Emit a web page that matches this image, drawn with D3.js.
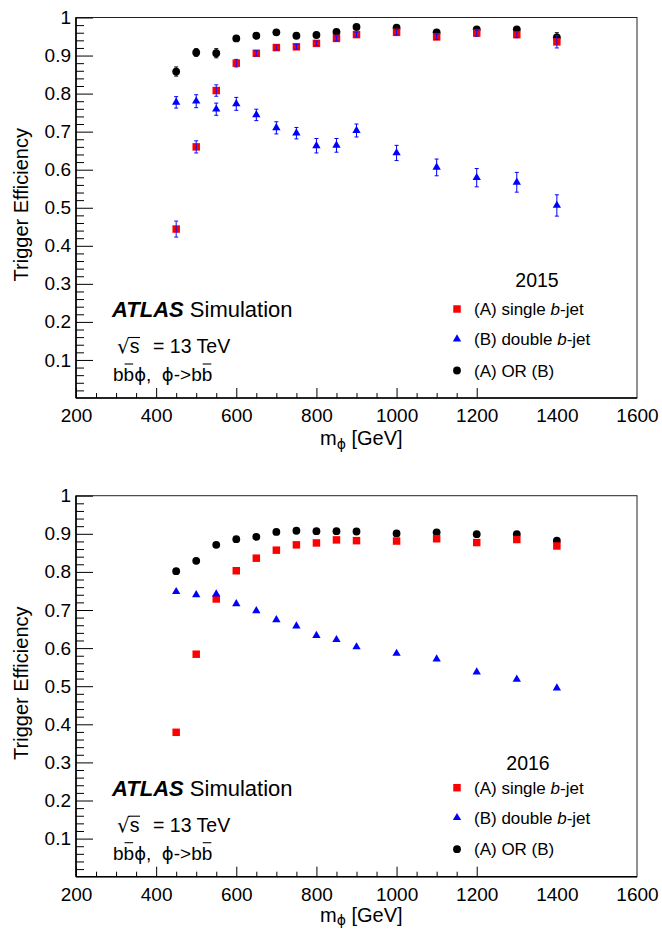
<!DOCTYPE html>
<html>
<head>
<meta charset="utf-8">
<script src="https://cdn.jsdelivr.net/npm/d3@7"></script>
<style>
  body { margin: 0; background: #fff; }
  svg { display: block; font-family: "Liberation Sans", Arial, Helvetica, sans-serif; }
  .sym { font-family: "DejaVu Sans", sans-serif; }
</style>
</head>
<body>
<svg width="662" height="930"></svg>
<script>
// signal mass points (GeV)
const masses = [450, 500, 550, 600, 650, 700, 750, 800, 850, 900, 1000, 1100, 1200, 1300, 1400];

// 2015 trigger efficiencies
const single2015    = [0.444, 0.660, 0.808, 0.880, 0.906, 0.921, 0.923, 0.932, 0.945, 0.955, 0.961, 0.949, 0.959, 0.955, 0.936];
const single2015Err = [0.021, 0.016, 0.015, 0.010, 0.007, 0.006, 0.006, 0.006, 0.006, 0.006, 0.007, 0.007, 0.008, 0.008, 0.016];
const double2015    = [0.777, 0.780, 0.759, 0.773, 0.744, 0.710, 0.696, 0.663, 0.664, 0.703, 0.644, 0.606, 0.579, 0.567, 0.506];
const double2015Err = [0.015, 0.017, 0.016, 0.017, 0.015, 0.016, 0.015, 0.019, 0.018, 0.017, 0.020, 0.022, 0.024, 0.026, 0.028];
const or2015        = [0.858, 0.908, 0.906, 0.945, 0.952, 0.961, 0.952, 0.954, 0.962, 0.975, 0.973, 0.961, 0.969, 0.969, 0.948];
const or2015Err     = [0.012, 0.010, 0.012, 0.006, 0.005, 0.005, 0.005, 0.005, 0.005, 0.005, 0.005, 0.005, 0.005, 0.005, 0.012];

// 2016 trigger efficiencies
const single2016 = [0.379, 0.584, 0.729, 0.803, 0.836, 0.857, 0.871, 0.876, 0.884, 0.882, 0.881, 0.887, 0.877, 0.885, 0.868];
const double2016 = [0.748, 0.740, 0.742, 0.716, 0.698, 0.674, 0.658, 0.633, 0.622, 0.603, 0.586, 0.571, 0.537, 0.518, 0.495];
const or2016     = [0.802, 0.829, 0.871, 0.886, 0.892, 0.905, 0.908, 0.907, 0.907, 0.906, 0.901, 0.904, 0.899, 0.899, 0.882];

// axis ticks
const xMajorTicks = [200, 400, 600, 800, 1000, 1200, 1400, 1600];
const yMajorTicks = [0.1, 0.2, 0.3, 0.4, 0.5, 0.6, 0.7, 0.8, 0.9, 1];
const legendLabels = ["(A) single ", "(B) double ", "(A) OR (B)"];

const svg = d3.select("svg");
const left = 76, right = 637;
const PHI = "\u03D5";

const panels = [
  { year: "2015", top: 17.5, bottom: 398, yearX: 537, yearY: 287, titleDy: 47,
    single: single2015, singleErr: single2015Err,
    double: double2015, doubleErr: double2015Err,
    or: or2015, orErr: or2015Err },
  { year: "2016", top: 495.7, bottom: 876.7, yearX: 528, yearY: 770, titleDy: 45,
    single: single2016, double: double2016, or: or2016 }
];

function errorBars(g, x, y, vals, errs, color) {
  if (!errs) return;
  const eg = g.append("g").attr("stroke", color).attr("stroke-width", 1);
  masses.forEach((m, i) => {
    const y0 = y(vals[i] - errs[i]), y1 = y(vals[i] + errs[i]);
    eg.append("line").attr("x1", x(m)).attr("x2", x(m)).attr("y1", y0).attr("y2", y1);
    eg.append("line").attr("x1", x(m) - 2).attr("x2", x(m) + 2).attr("y1", y0).attr("y2", y0);
    eg.append("line").attr("x1", x(m) - 2).attr("x2", x(m) + 2).attr("y1", y1).attr("y2", y1);
  });
}

const square = d3.symbol().type(d3.symbolSquare).size(56)();
const triangle = d3.symbol().type(d3.symbolTriangle).size(30)();

function drawPanel(p) {
  const x = d3.scaleLinear().domain([200, 1600]).range([left, right]);
  const y = d3.scaleLinear().domain([0, 1]).range([p.bottom, p.top]);
  const g = svg.append("g");

  // frame
  g.append("rect")
    .attr("x", left).attr("y", p.top)
    .attr("width", right - left).attr("height", p.bottom - p.top)
    .attr("fill", "none").attr("stroke", "#222").attr("stroke-width", 1);

  // y axis: labels + major ticks
  g.append("g").attr("transform", `translate(${left},0)`)
    .call(d3.axisLeft(y).tickValues(yMajorTicks).tickSizeInner(-17).tickSizeOuter(0)
      .tickPadding(5).tickFormat(d => String(+d.toFixed(1))));
  // y minor ticks
  const yMinor = d3.range(1, 50).map(i => i / 50).filter((v, i) => (i + 1) % 5 !== 0);
  g.append("g").attr("transform", `translate(${left},0)`)
    .call(d3.axisLeft(y).tickValues(yMinor).tickSizeInner(-8).tickSizeOuter(0).tickFormat(""));

  // x axis: labels
  g.append("g").attr("transform", `translate(0,${p.bottom})`)
    .call(d3.axisBottom(x).tickValues(xMajorTicks).tickSize(0).tickPadding(10.5).tickFormat(d3.format("d")));
  // x ticks (legend box hides those right of ~1245)
  g.append("g").attr("transform", `translate(0,${p.bottom})`)
    .call(d3.axisBottom(x).tickValues(xMajorTicks.filter(v => v < 1245))
      .tickSizeInner(-10).tickSizeOuter(0).tickFormat(""));
  g.append("g").attr("transform", `translate(0,${p.bottom})`)
    .call(d3.axisBottom(x).tickValues(d3.range(250, 1245, 50).filter(v => v % 200 !== 0))
      .tickSizeInner(-5).tickSizeOuter(0).tickFormat(""));

  g.selectAll(".domain").remove();
  g.selectAll(".tick line").attr("stroke", "#000").attr("stroke-width", 1);
  g.selectAll(".tick text").attr("font-size", 19).attr("fill", "#000")
    .attr("font-family", "Liberation Sans, Arial, sans-serif");

  // axis lines
  g.append("line").attr("x1", left).attr("x2", left).attr("y1", p.top).attr("y2", p.bottom)
    .attr("stroke", "#000").attr("stroke-width", 1.6);
  g.append("line").attr("x1", left).attr("x2", right).attr("y1", p.bottom).attr("y2", p.bottom)
    .attr("stroke", "#000").attr("stroke-width", 1.6);

  // axis titles
  g.append("text")
    .attr("transform", `translate(28,${(p.top + p.bottom) / 2 - 3}) rotate(-90)`)
    .attr("text-anchor", "middle").attr("font-size", 20)
    .text("Trigger Efficiency");
  const xt = g.append("text").attr("x", 320).attr("y", p.bottom + p.titleDy).attr("font-size", 20);
  xt.append("tspan").text("m");
  xt.append("tspan").attr("class", "sym").attr("dy", 3.5).attr("font-size", 14).text(PHI);
  xt.append("tspan").attr("dy", -3.5).style("white-space", "pre").text(" [GeV]");

  // data: (A) OR (B)
  errorBars(g, x, y, p.or, p.orErr, "#000");
  g.append("g").selectAll("circle").data(masses).join("circle")
    .attr("cx", d => x(d)).attr("cy", (d, i) => y(p.or[i])).attr("r", 3.9).attr("fill", "#000");
  // (A) single b-jet
  g.append("g").selectAll("path").data(masses).join("path")
    .attr("d", square).attr("fill", "#ff0000")
    .attr("transform", (d, i) => `translate(${x(d)},${y(p.single[i])})`);
  errorBars(g, x, y, p.single, p.singleErr, "#1010ff");
  // (B) double b-jet
  errorBars(g, x, y, p.double, p.doubleErr, "#0000ff");
  g.append("g").selectAll("path").data(masses).join("path")
    .attr("d", triangle).attr("fill", "#0000ff")
    .attr("transform", (d, i) => `translate(${x(d)},${y(p.double[i])})`);

  // legend
  g.append("text").attr("x", p.yearX).attr("y", p.yearY).attr("text-anchor", "middle")
    .attr("font-size", 19.5).text(p.year);
  const rowY = [p.bottom - 89, p.bottom - 59, p.bottom - 27.5];
  const lg = g.append("g");
  lg.append("path").attr("d", square).attr("fill", "#ff0000")
    .attr("transform", `translate(457,${rowY[0]})`);
  lg.append("path").attr("d", triangle).attr("fill", "#0000ff")
    .attr("transform", `translate(457,${rowY[1]})`);
  lg.append("circle").attr("cx", 457).attr("cy", rowY[2]).attr("r", 3.9).attr("fill", "#000");
  legendLabels.forEach((lab, i) => {
    const t = lg.append("text").attr("x", 474).attr("y", rowY[i] + 6).attr("font-size", 17)
      .style("white-space", "pre");
    t.append("tspan").text(lab);
    if (i < 2) {
      t.append("tspan").attr("font-style", "italic").text("b");
      t.append("tspan").text("-jet");
    }
  });

  // ATLAS label block
  const base = p.bottom - 81;
  const at = g.append("text").attr("x", 112).attr("y", base).attr("font-size", 22).style("white-space", "pre");
  at.append("tspan").attr("font-weight", "bold").attr("font-style", "italic").text("ATLAS");
  at.append("tspan").text(" Simulation");

  const sq = g.append("text").attr("x", 117).attr("y", base + 36).attr("font-size", 19.5);
  sq.append("tspan").attr("class", "sym").attr("font-size", 20).text("√");
  sq.append("tspan").text("s");
  sq.append("tspan").attr("x", 153).text("= 13 TeV");
  const sExt = sq.node().getExtentOfChar(1);
  const rExt = sq.node().getExtentOfChar(0);
  g.append("line").attr("x1", rExt.x + rExt.width - 1.2).attr("x2", sExt.x + sExt.width + 0.5)
    .attr("y1", base + 36 - 15.5).attr("y2", base + 36 - 15.5)
    .attr("stroke", "#000").attr("stroke-width", 1.1);

  const pb = base + 64;
  const proc = g.append("text").attr("x", 113).attr("y", pb).attr("font-size", 19)
    .style("white-space", "pre");
  proc.append("tspan").text("bb");
  proc.append("tspan").attr("class", "sym").attr("font-size", 18).text(PHI);
  proc.append("tspan").text(",  ");
  proc.append("tspan").attr("class", "sym").attr("font-size", 18).text(PHI);
  proc.append("tspan").text("->bb");
  [1, 10].forEach(ci => {
    const e = proc.node().getExtentOfChar(ci);
    g.append("line").attr("x1", e.x + 1).attr("x2", e.x + e.width - 1)
      .attr("y1", pb - 17).attr("y2", pb - 17)
      .attr("stroke", "#000").attr("stroke-width", 1.1);
  });
}

panels.forEach(drawPanel);
</script>
</body>
</html>
